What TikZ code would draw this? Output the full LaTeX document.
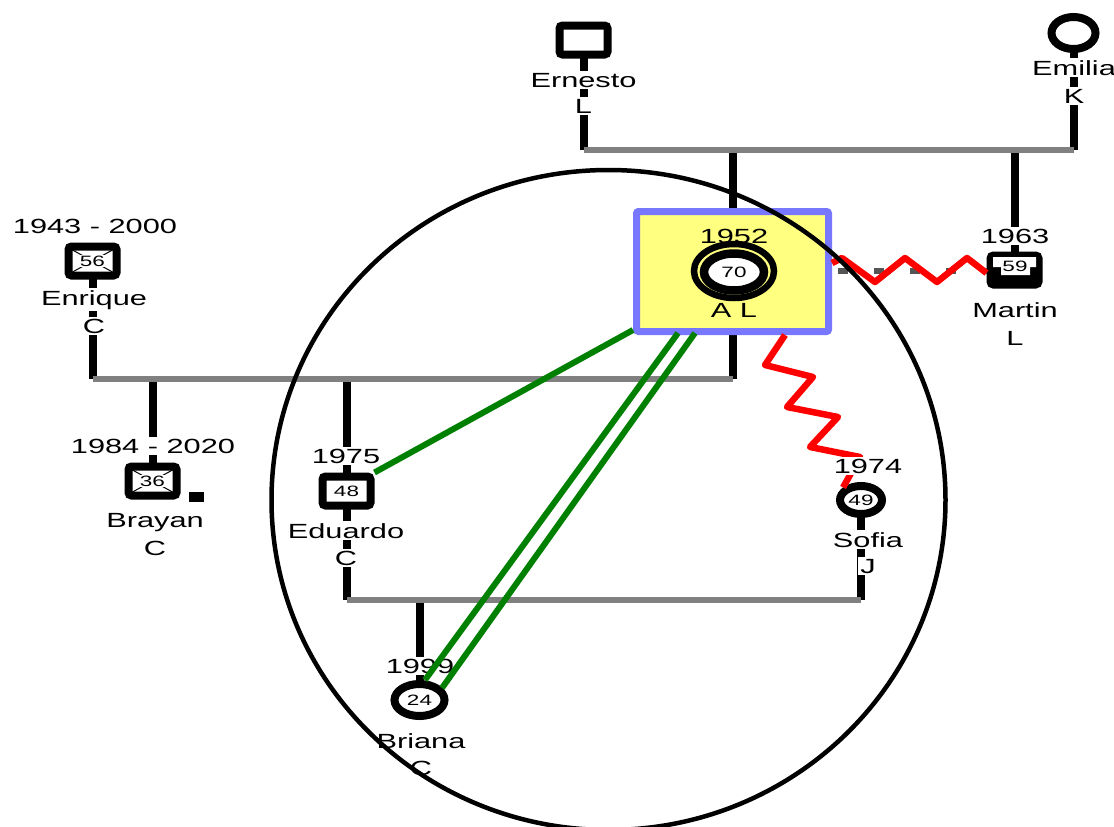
\documentclass[tikz,border=0pt]{standalone}
\usepackage{fontspec}
\setmainfont{Liberation Sans}[FakeStretch=1.5]
\usetikzlibrary{shapes.geometric,calc}
\definecolor{alyellow}{HTML}{FFFF80}
\definecolor{alblue}{HTML}{7777FF}
\definecolor{margray}{HTML}{808080}
\definecolor{dashgray}{HTML}{555555}
\definecolor{linkgreen}{HTML}{008000}
\newcommand\lblfont{\fontsize{20.5}{24}\selectfont}
\newcommand\numfont{\fontsize{15}{18}\selectfont}
\pgfdeclarelayer{bg}
\pgfsetlayers{bg,main}
\begin{document}
\begin{tikzpicture}[x=1pt,y=-1pt,
 kin/.style={line width=8pt},
 mar/.style={line width=5.5pt, draw=margray},
 male/.style={draw, line width=8pt, rounded corners=3pt, fill=white, inner sep=0pt, minimum width=48pt, minimum height=29pt, font=\numfont},
 female/.style={draw, ellipse, line width=8pt, fill=white, inner sep=0pt, font=\numfont},
 lbl/.style={font=\lblfont, fill=white, inner sep=2pt, anchor=base},
 plainlbl/.style={font=\lblfont, inner sep=0pt, anchor=base},
 age/.style={font=\numfont, fill=white, inner sep=1pt},
 xline/.style={line width=1pt},
 green link/.style={draw=linkgreen, line width=6pt},
 red link/.style={draw=red, line width=6.5pt, line join=round},
 dashlink/.style={draw=dashgray, line width=5.5pt, dash pattern=on 10pt off 26pt, dash phase=30pt},
]
\useasboundingbox (0,0) rectangle (1114,827);
\clip (0,0) rectangle (1114,827);

% symbols
\node[male] (ernesto) at (583.5,40) {};
\node[female, minimum width=44pt, minimum height=32pt] (emilia) at (1073.5,33) {};
\node[draw=alblue, fill=alyellow, line width=7pt, rounded corners=2pt, minimum width=192pt, minimum height=120pt, inner sep=0pt] (al) at (732.5,271.5) {};
\node[plainlbl] (alyear) at (734,243) {1952};
\node[draw, ellipse, line width=6.5pt, minimum width=80pt, minimum height=54pt, inner sep=0pt] (alouter) at (734,271) {};
\node[female, line width=8.5pt, minimum width=60pt, minimum height=37pt] (alinner) at (734,272) {70};
\node[plainlbl] (alname) at (734,317) {A L};

\node[male, fill=black] (martin) at (1014.5,270) {};
\fill[white] (993,257) -- (1036,257) -- (1036,267) -- (1030,267) -- (1030,275) -- (1001,275) -- (1001,267) -- (993,267) -- cycle;
\node[font=\numfont, inner sep=0pt] (martinage) at (1015,266) {59};

\node[male] (enrique) at (92.5,261) {};
\draw[xline] ($(enrique.center)+(-20,-11)$) -- ($(enrique.center)+(20,11)$);
\draw[xline] ($(enrique.center)+(-20,11)$) -- ($(enrique.center)+(20,-11)$);
\node[age] (enriqueage) at (enrique.center) {56};

\node[male] (brayan) at (152.5,481) {};
\draw[xline] ($(brayan.center)+(-20,-11)$) -- ($(brayan.center)+(20,11)$);
\draw[xline] ($(brayan.center)+(-20,11)$) -- ($(brayan.center)+(20,-11)$);
\node[age] (brayanage) at (brayan.center) {36};
\node[fill=black, minimum width=15pt, minimum height=10pt, inner sep=0pt] (brayanmark) at (196.5,497) {};

\node[male] (eduardo) at (346.5,491) {48};
\node[female, minimum width=42pt, minimum height=28pt] (sofia) at (861,500) {49};
\node[female, minimum width=50pt, minimum height=32pt] (briana) at (419.5,700) {24};

% family lines
\coordinate (u1) at (583.5,150);
\coordinate (u2) at (1073.5,150);
\coordinate (v1) at (92.5,379);
\coordinate (v2) at (732.5,379);
\coordinate (w1) at (346.5,600);
\coordinate (w2) at (861,600);
\begin{pgfonlayer}{bg}
\draw[kin] (ernesto.center) -- (u1);
\draw[kin] (emilia.center) -- (u2);
\draw[kin] (al.center |- u1) -- (v2);
\draw[kin] (martin.center |- u1) -- (martin.center);
\draw[kin] (enrique.center) -- (v1);
\draw[kin] (brayan.center |- v1) -- (brayan.center);
\draw[kin] (eduardo.center |- v1) -- (w1);
\draw[kin] (sofia.center) -- (w2);
\draw[kin] (briana.center |- w1) -- (briana.center);
\draw[mar] (u1) -- (u2);
\draw[mar] (v1) -- (v2);
\draw[mar] (w1) -- (w2);
\end{pgfonlayer}

% red links
\draw[dashlink] ($(al.east)+(0,-0.5)$) -- ($(martin.west)+(0,1)$);
\draw[red link] ($(al.east)+(0,-8.5)$) -- (842,258) -- (875,282) -- (905,258) -- (937,282) -- (967,258) -- ($(martin.west)+(0,3)$);
\draw[red link] ($(al.south)+(52.5,0)$) -- (765,365) -- (813,377) -- (787,407) -- (838,417) -- (810,447) -- (860,457) -- (sofia.145);

% labels
\node[lbl] (ernesto-n) at (583.5,87) {Ernesto};
\node[lbl] (ernesto-c) at (583.5,113) {L};
\node[lbl] (emilia-n) at (1074,75) {Emilia};
\node[lbl] (emilia-c) at (1074,103) {K};
\node[lbl] (martin-y) at (1015,243) {1963};
\node[lbl] (martin-n) at (1015,317) {Martin};
\node[lbl] (martin-c) at (1015,345) {L};
\node[lbl] (enrique-y) at (95,233) {1943 - 2000};
\node[lbl] (enrique-n) at (94,305) {Enrique};
\node[lbl] (enrique-c) at (94,333) {C};
\node[lbl] (brayan-y) at (153,453) {1984 - 2020};
\node[lbl] (brayan-n) at (155,527) {Brayan};
\node[lbl] (brayan-c) at (155,555) {C};
\node[lbl] (eduardo-y) at (346,463) {1975};
\node[lbl] (eduardo-n) at (346,538) {Eduardo};
\node[lbl] (eduardo-c) at (346,565) {C};
\node[lbl] (sofia-y) at (868,473) {1974};
\node[lbl] (sofia-n) at (868,547) {Sofia};
\node[lbl] (sofia-c) at (868,573) {J};
\node[lbl] (briana-y) at (420,673) {1999};
\node[lbl] (briana-n) at (421,748) {Briana};
\node[lbl] (briana-c) at (421,775) {C};

% green links
\draw[green link] ($(al.south west)+(0,-5)$) -- (eduardo.north east);
\draw[green link] ($(al.south)+(-54.5,-2)$) -- ($(briana.center)+(5.5,-20)$);
\draw[green link] ($(al.south)+(-37.5,-2)$) -- ($(briana.center)+(22.5,-12)$);

% big ellipse
\draw[line width=4.5pt] (608.5,500) ellipse [x radius=337pt, y radius=330pt];
\end{tikzpicture}
\end{document}
